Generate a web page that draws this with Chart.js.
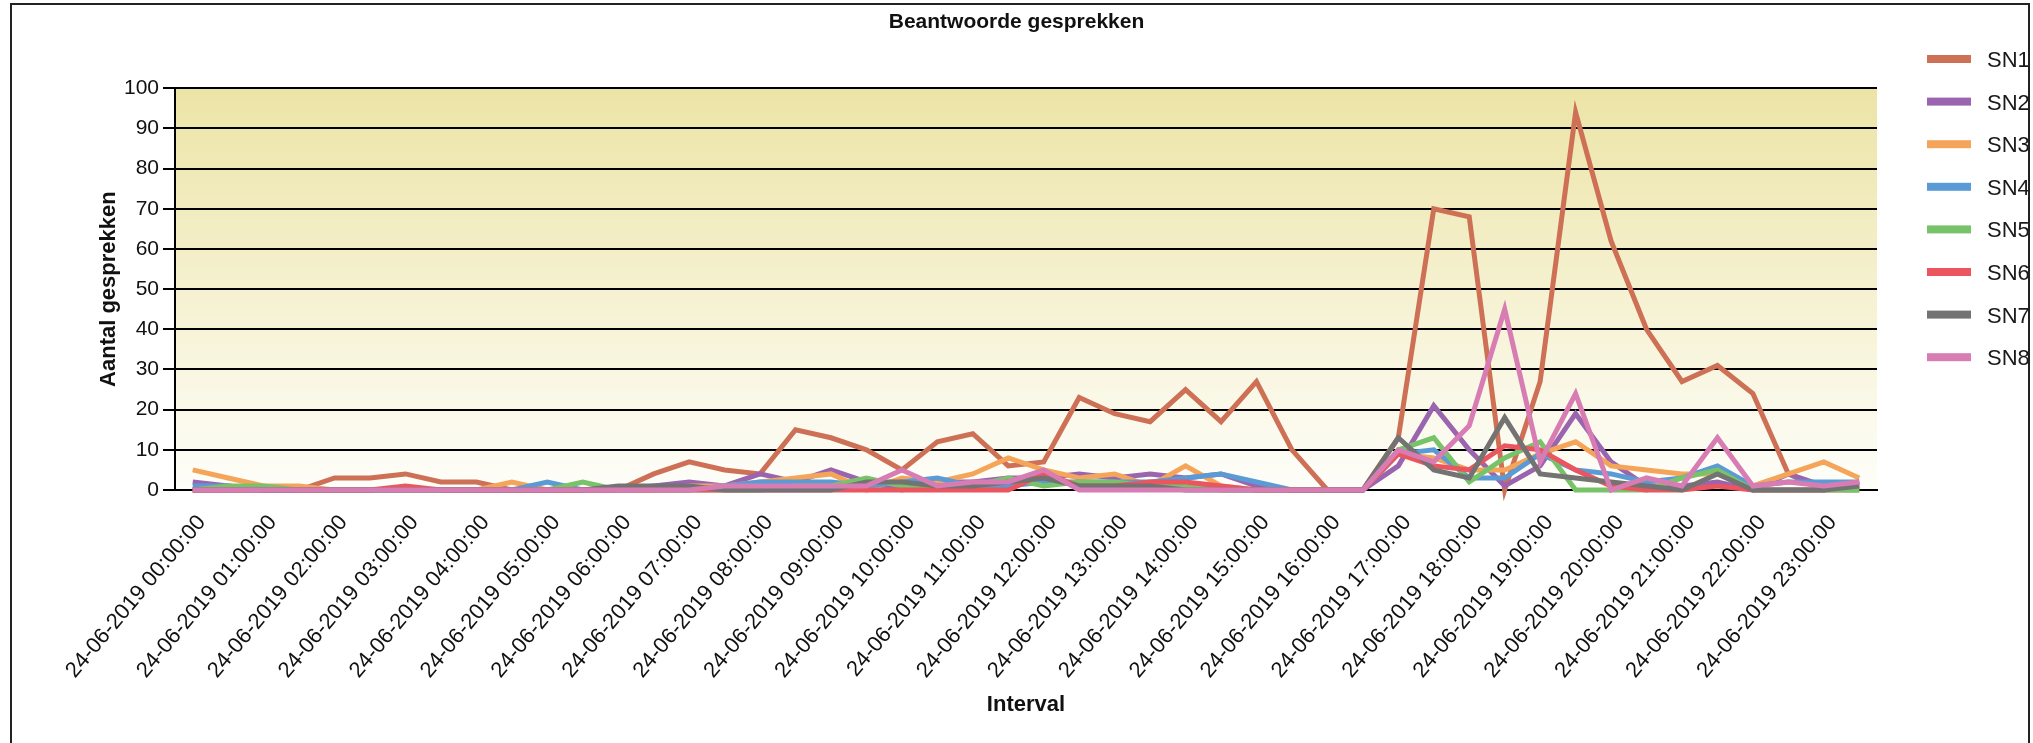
<!DOCTYPE html>
<html>
<head>
<meta charset="utf-8">
<title>Beantwoorde gesprekken</title>
<script src="https://cdn.jsdelivr.net/npm/chart.js@4.4.1/dist/chart.umd.min.js"></script>
<style>
    html, body { margin: 0; padding: 0; background: #fff; overflow: hidden; }
    #box { position: relative; width: 2033px; height: 743px; }
    #frame {
        position: absolute; left: 10px; top: 3px; width: 2020px; height: 800px;
        border: 2px solid #222; box-sizing: border-box; pointer-events: none;
    }
</style>
</head>
<body>
<div id="box">
    <canvas id="chart"></canvas>
    <div id="frame"></div>
</div>
<script>
// Half-hour intervals of 24-06-2019
const intervals = [];
for (let h = 0; h < 24; h++) {
    const hh = String(h).padStart(2, "0");
    intervals.push(`24-06-2019 ${hh}:00:00`, `24-06-2019 ${hh}:30:00`);
}

// Answered calls per interval
const sn1 = [0, 0, 0, 0, 3, 3, 4, 2, 2, 0, 0, 0, 0, 4, 7, 5, 4, 15, 13, 10, 5, 12, 14, 6,
             7, 23, 19, 17, 25, 17, 27, 10, 0, 0, 13, 70, 68, 0, 27, 94, 62, 40, 27, 31, 24, 4, 0, 0];
const sn2 = [2, 1, 0, 0, 0, 0, 0, 0, 0, 0, 0, 0, 0, 1, 2, 1, 4, 2, 5, 2, 0, 2, 2, 3,
             3, 4, 3, 4, 3, 4, 1, 0, 0, 0, 6, 21, 10, 1, 6, 19, 7, 1, 1, 2, 0, 4, 1, 1];
const sn3 = [5, 3, 1, 1, 0, 0, 0, 0, 0, 2, 0, 0, 0, 0, 1, 1, 2, 3, 4, 0, 3, 2, 4, 8,
             5, 3, 4, 1, 6, 1, 0, 0, 0, 0, 9, 8, 5, 5, 9, 12, 6, 5, 4, 4, 1, 4, 7, 3];
const sn4 = [1, 1, 0, 0, 0, 0, 0, 0, 0, 0, 2, 0, 0, 0, 0, 1, 2, 2, 2, 1, 2, 3, 1, 1,
             2, 2, 2, 2, 3, 4, 2, 0, 0, 0, 9, 10, 3, 3, 9, 5, 4, 2, 3, 6, 1, 2, 2, 2];
const sn5 = [0, 1, 1, 0, 0, 0, 0, 0, 0, 0, 0, 2, 0, 0, 0, 0, 0, 1, 1, 3, 1, 1, 1, 3,
             1, 2, 2, 1, 1, 0, 0, 0, 0, 0, 10, 13, 2, 8, 12, 0, 0, 0, 3, 5, 0, 0, 0, 0];
const sn6 = [0, 0, 0, 0, 0, 0, 1, 0, 0, 0, 0, 0, 0, 0, 0, 0, 0, 0, 0, 0, 0, 0, 0, 0,
             4, 1, 1, 2, 2, 1, 0, 0, 0, 0, 9, 6, 5, 11, 10, 5, 1, 0, 0, 1, 0, 0, 0, 2];
const sn7 = [0, 0, 0, 0, 0, 0, 0, 0, 0, 0, 0, 0, 1, 1, 1, 0, 0, 0, 0, 2, 2, 1, 1, 2,
             3, 1, 1, 1, 0, 0, 0, 0, 0, 0, 13, 5, 3, 18, 4, 3, 2, 1, 0, 4, 0, 0, 0, 1];
const sn8 = [0, 0, 0, 0, 0, 0, 0, 0, 0, 0, 0, 0, 0, 0, 0, 1, 1, 1, 1, 1, 5, 1, 2, 2,
             5, 0, 0, 0, 0, 0, 0, 0, 0, 0, 10, 7, 16, 45, 7, 24, 0, 3, 1, 13, 1, 2, 1, 2];

const seriesNames = ["SN1", "SN2", "SN3", "SN4", "SN5", "SN6", "SN7", "SN8"];
const seriesValues = [sn1, sn2, sn3, sn4, sn5, sn6, sn7, sn8];
const seriesColors = ["#cd7056", "#9b64af", "#f5a55a", "#5a9bd5", "#78c369", "#eb555f", "#737373", "#d77db4"];

const yTicks = { min: 0, max: 100, step: 10 };

const fontFamily = "'Liberation Sans', Arial, sans-serif";
Chart.defaults.font.family = fontFamily;

// yellow gradient behind the plot area
const plotBackground = {
    id: "plotBackground",
    beforeDraw(chart) {
        const { ctx, chartArea: a } = chart;
        const g = ctx.createLinearGradient(0, a.top, 0, a.bottom);
        g.addColorStop(0, "#ece4a6");
        g.addColorStop(1, "#fefefa");
        ctx.save();
        ctx.fillStyle = g;
        ctx.fillRect(a.left, a.top, a.right - a.left, a.bottom - a.top);
        ctx.restore();
    }
};

// legend on the right, line swatch + name
const sideLegend = {
    id: "sideLegend",
    afterDraw(chart) {
        const { ctx, chartArea } = chart;
        const x = chartArea.right + 50;
        ctx.save();
        ctx.font = `22px ${fontFamily}`;
        ctx.textBaseline = "middle";
        chart.data.datasets.forEach((ds, i) => {
            const y = 59 + i * 42.6;
            ctx.fillStyle = ds.borderColor;
            ctx.fillRect(x, y - 4, 44, 8);
            ctx.fillStyle = "#1a1a1a";
            ctx.fillText(ds.label, x + 60, y + 2);
        });
        ctx.restore();
    }
};

new Chart(document.getElementById("chart"), {
    type: "line",
    data: {
        labels: intervals,
        datasets: seriesNames.map((name, i) => ({
            label: name,
            data: seriesValues[i],
            yAxisID: "y",
            borderColor: seriesColors[i],
            backgroundColor: seriesColors[i],
            borderWidth: 5,
            pointRadius: 0,
            pointHoverRadius: 0,
            tension: 0,
            fill: false,
            clip: false,
            order: seriesNames.length - i   // last series drawn on top
        }))
    },
    options: {
        responsive: true,
        maintainAspectRatio: false,
        animation: false,
        layout: { padding: 0 },
        plugins: {
            legend: { display: false },
            tooltip: { enabled: false },
            title: {
                display: true,
                text: "Beantwoorde gesprekken",
                color: "#111",
                font: { size: 21, weight: "bold" },
                padding: { top: 10, bottom: 53 }
            }
        },
        scales: {
            x: {
                offset: true,
                grid: { display: false, drawTicks: false, tickLength: 0 },
                border: { display: true, color: "#000", width: 2 },
                ticks: {
                    autoSkip: false,
                    minRotation: 50,
                    maxRotation: 50,
                    padding: 20,
                    labelOffset: 9,
                    color: "#111",
                    font: { size: 22 },
                    callback(value, index) {
                        return index % 2 === 0 ? this.getLabelForValue(value) : "";
                    }
                },
                title: {
                    display: true,
                    text: "Interval",
                    color: "#111",
                    font: { size: 22, weight: "bold" },
                    padding: { bottom: 25 }
                },
                afterFit(scale) { scale.height = 253; }
            },
            y: {
                min: yTicks.min,
                max: yTicks.max,
                ticks: { stepSize: yTicks.step, padding: 4, color: "#111", font: { size: 21 } },
                grid: { color: "#000", lineWidth: 2, tickLength: 12, tickColor: "#000" },
                border: { display: true, color: "#000", width: 2 },
                title: {
                    display: true,
                    text: "Aantal gesprekken",
                    color: "#111",
                    font: { size: 22, weight: "bold" },
                    padding: { top: 96 }
                },
                afterFit(scale) { scale.width = 175; }
            },
            // empty axis that keeps room for the legend
            legendRoom: {
                type: "linear",
                position: "right",
                display: true,
                grid: { display: false, drawTicks: false },
                border: { display: false },
                ticks: { display: false },
                afterFit(scale) { scale.width = 156; }
            }
        }
    },
    plugins: [plotBackground, sideLegend]
});
</script>
</body>
</html>
